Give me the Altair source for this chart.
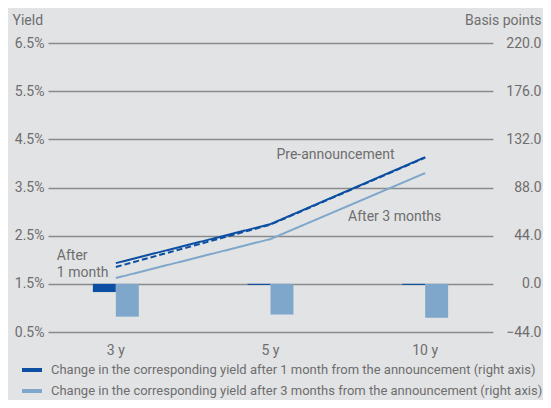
import altair as alt
import pandas as pd

# ---- data ----
tenors = ["3 y", "5 y", "10 y"]
pre_yield = [1.93, 2.74, 4.13]
m1_yield = [1.85, 2.73, 4.12]
m3_yield = [1.62, 2.43, 3.80]
line_names = ["Pre-announcement", "After 1 month", "After 3 months"]

chg_1m_bp = [-7.5, -1.0, -1.0]
chg_3m_bp = [-30.0, -28.0, -31.0]
bar_names = [
    "Change in the corresponding yield after 1 month from the announcement (right axis)",
    "Change in the corresponding yield after 3 months from the announcement (right axis)",
]

left_ticks = [0.5, 1.5, 2.5, 3.5, 4.5, 5.5, 6.5]
right_ticks = [-44, 0, 44, 88, 132, 176, 220]

annot_text = ["Pre-announcement", "After 3 months", "After", "1 month"]
annot_tenor = ["5 y", "10 y", "3 y", "3 y"]
annot_yield = [4.17, 2.88, 2.07, 1.72]

# ---- tables ----
lines_df = pd.DataFrame(
    [{"tenor": t, "series": n, "yield": v}
     for n, vals in zip(line_names, [pre_yield, m1_yield, m3_yield])
     for t, v in zip(tenors, vals)]
)
bars_df = pd.DataFrame(
    [{"tenor": t, "series": n, "bp": v}
     for n, vals in zip(bar_names, [chg_1m_bp, chg_3m_bp])
     for t, v in zip(tenors, vals)]
)
annot_df = pd.DataFrame({"text": annot_text, "tenor": annot_tenor, "yield": annot_yield})

DARK = "#0b4ea2"
LIGHT = "#7fa7cb"
TXT = "#6e6e6e"
GRID = "#8a8a8a"
FONT = "Roboto"

x_enc = alt.X(
    "tenor:N", sort=tenors, title=None,
    scale=alt.Scale(range=[0, 445], paddingInner=0.703, paddingOuter=0.29),
    axis=alt.Axis(labelAngle=0, ticks=False, tickSize=0, domain=False, grid=False,
                  labelPadding=11, labelFontSize=14, labelColor=TXT, labelFont=FONT),
)

y_left_scale = alt.Scale(domain=[0.5, 6.5], nice=False, zero=False)
y_left_axis = alt.Axis(orient="left", values=left_ticks,
                       labelExpr="format(datum.value, '.1f') + '%'",
                       grid=True, gridColor=GRID, gridWidth=1.6,
                       ticks=False, tickSize=0, domain=False, labelPadding=4,
                       labelFontSize=14, labelColor=TXT, labelFont=FONT,
                       title="Yield", titleAngle=0, titleAlign="left",
                       titleBaseline="middle", titleX=-36, titleY=-23,
                       titleFontSize=14, titleFontWeight="normal", titleColor=TXT,
                       titleFont=FONT)

bars = alt.Chart(bars_df).mark_bar().encode(
    x=x_enc,
    xOffset=alt.XOffset("series:N", sort=bar_names,
                        scale=alt.Scale(paddingInner=0, paddingOuter=0)),
    y=alt.Y("bp:Q", scale=alt.Scale(domain=[-44, 220], nice=False, zero=False),
            axis=alt.Axis(orient="right", values=right_ticks, format=".1f", grid=False,
                          ticks=False, tickSize=0, domain=False, labelAlign="right",
                          labelPadding=39, labelFontSize=14, labelColor=TXT, labelFont=FONT,
                          title="Basis points", titleAngle=0, titleAlign="right",
                          titleBaseline="middle", titleX=39, titleY=-23,
                          titleFontSize=14, titleFontWeight="normal", titleColor=TXT,
                          titleFont=FONT)),
    color=alt.Color("series:N", sort=bar_names,
                    scale=alt.Scale(domain=bar_names, range=[DARK, LIGHT]),
                    legend=alt.Legend(title=None, orient="none", legendX=-26, legendY=317,
                                      padding=0, symbolType="M-1,-0.2H1V0.2H-1Z",
                                      symbolSize=400, symbolStrokeWidth=0, labelOffset=9,
                                      rowPadding=4, labelFontSize=13, labelLimit=0,
                                      labelColor=TXT, labelFont=FONT)),
)

lines = alt.Chart(lines_df).mark_line(strokeWidth=2).encode(
    x=x_enc,
    y=alt.Y("yield:Q", scale=y_left_scale, axis=y_left_axis),
    stroke=alt.Stroke("series:N", scale=alt.Scale(domain=line_names, range=[DARK, DARK, LIGHT]),
                      legend=None),
    strokeDash=alt.StrokeDash("series:N",
                              scale=alt.Scale(domain=line_names, range=[[1, 0], [6, 3], [1, 0]]),
                              legend=None),
    detail="series:N",
)

text_styles = {
    "Pre-announcement": dict(align="left", dx=6),
    "After 3 months": dict(align="right", dx=16),
    "After": dict(align="left", dx=-59),
    "1 month": dict(align="left", dx=-59),
}
texts = []
for label, st in text_styles.items():
    texts.append(
        alt.Chart(annot_df).transform_filter(alt.datum.text == label)
        .mark_text(baseline="middle", fontSize=14, color=TXT, font=FONT, **st)
        .encode(x=x_enc, y=alt.Y("yield:Q", scale=y_left_scale, axis=y_left_axis),
                text="text:N")
    )

left_layer = alt.layer(lines, *texts)

chart = alt.layer(bars, left_layer).resolve_scale(
    y="independent", color="independent"
).properties(
    width=454, height=289,
    autosize=alt.AutoSizeParams(type="none"),
    padding={"left": 40, "top": 35, "right": 41, "bottom": 68},
).configure(background="#e2e3e5", font=FONT).configure_view(stroke=None)

chart.save("out.html", embed_options={"renderer": "svg", "actions": False})
